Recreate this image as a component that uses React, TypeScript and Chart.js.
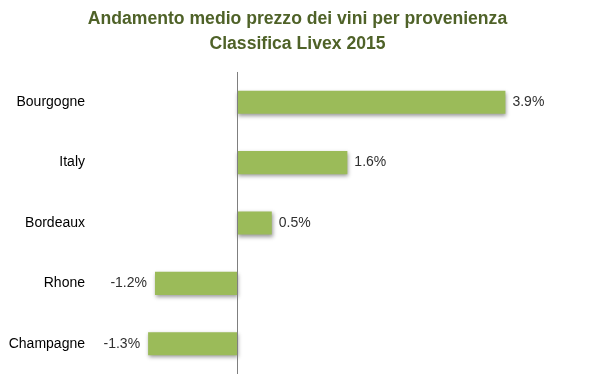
import React, { useEffect, useRef } from "react";
import { Chart, registerables } from "chart.js";

Chart.register(...registerables);

const categories = ["Bourgogne", "Italy", "Bordeaux", "Rhone", "Champagne"];
const values = [3.9, 1.6, 0.5, -1.2, -1.3];
const titleLines = ["Andamento medio prezzo dei vini per provenienza", "Classifica Livex 2015"];

const barShadow = {
  id: "barShadow",
  beforeDatasetDraw(chart: any) {
    const ctx = chart.ctx;
    ctx.save();
    ctx.shadowColor = "rgba(0,0,0,0.4)";
    ctx.shadowBlur = 4;
    ctx.shadowOffsetX = 1;
    ctx.shadowOffsetY = 2;
  },
  afterDatasetDraw(chart: any) {
    chart.ctx.restore();
  },
};

const zeroLine = {
  id: "zeroLine",
  afterDatasetsDraw(chart: any) {
    const { ctx, chartArea, scales } = chart;
    const x = Math.round(scales.x.getPixelForValue(0)) + 0.5;
    ctx.save();
    ctx.strokeStyle = "#7f7f7f";
    ctx.lineWidth = 1;
    ctx.beginPath();
    ctx.moveTo(x, chartArea.top);
    ctx.lineTo(x, chartArea.bottom);
    ctx.stroke();
    ctx.restore();
  },
};

const valueLabels = {
  id: "valueLabels",
  afterDatasetsDraw(chart: any) {
    const { ctx } = chart;
    const meta = chart.getDatasetMeta(0);
    ctx.save();
    ctx.font = "14px 'Liberation Sans', Arial, sans-serif";
    ctx.fillStyle = "#303030";
    ctx.textBaseline = "middle";
    meta.data.forEach((el: any, i: number) => {
      const v = values[i];
      const txt = v.toFixed(1) + "%";
      if (v >= 0) {
        ctx.textAlign = "left";
        ctx.fillText(txt, el.x + 7, el.y);
      } else {
        ctx.textAlign = "right";
        ctx.fillText(txt, el.x - 8, el.y);
      }
    });
    ctx.restore();
  },
};

export default function App() {
  const ref = useRef<HTMLCanvasElement>(null);
  useEffect(() => {
    if (!ref.current) return;
    const chart = new Chart(ref.current, {
      type: "bar",
      data: {
        labels: categories,
        datasets: [
          {
            data: values,
            backgroundColor: "#9bbb59",
            borderWidth: 0,
            categoryPercentage: 1,
            barPercentage: 0.382,
          },
        ],
      },
      options: {
        indexAxis: "y",
        animation: false,
        responsive: false,
        maintainAspectRatio: false,
        layout: { padding: { left: 14, right: 17, top: 0, bottom: 15 } },
        plugins: {
          legend: { display: false },
          tooltip: { enabled: false },
          title: {
            display: true,
            text: titleLines,
            color: "#4f6228",
            font: { family: "'Liberation Sans Narrow', 'Liberation Sans', Arial, sans-serif", size: 17.6, weight: "bold", lineHeight: 1.42 },
            padding: { top: 7, bottom: 15 },
          },
        },
        scales: {
          x: {
            display: false,
            min: -2,
            max: 5,
          },
          y: {
            grid: { display: false, drawTicks: false },
            border: { display: false },
            ticks: {
              color: "#000000",
              padding: 15,
              font: { family: "'Liberation Sans', Arial, sans-serif", size: 14 },
            },
            afterFit(scale: any) {
              scale.width = 86;
              scale.paddingTop = 0;
              scale.paddingBottom = 0;
              scale._computeLabelArea = () => undefined;
            },
          },
        },
      },
      plugins: [barShadow, zeroLine, valueLabels],
    });
    return () => chart.destroy();
  }, []);
  return (
    <div style={{ position: "fixed", left: 0, top: 0, width: 598, height: 389, background: "#fff" }}>
      <canvas ref={ref} width={598} height={389} style={{ width: 598, height: 389 }} />
    </div>
  );
}
